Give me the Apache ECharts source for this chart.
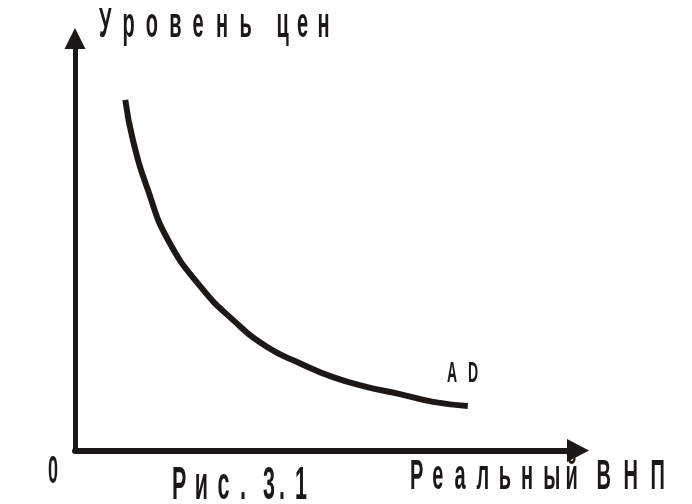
<!DOCTYPE html>
<html>
<head>
<meta charset="utf-8">
<script src="https://cdn.jsdelivr.net/npm/echarts@6/dist/echarts.min.js"></script>
<style>html,body{margin:0;padding:0;background:#fff;}#c{width:692px;height:504px;}</style>
</head>
<body>
<div id="c"></div>
<script>
// Curve AD (aggregate demand): real GNP (x) vs price level (y), arbitrary 0-100 units
const realGNP    = [10.0, 11.5, 14.5, 18.5, 25.0, 31.4, 38.2, 44.7, 51.3, 58.1, 64.6, 71.2, 78.1];
const priceLevel = [85.1, 75.4, 63.2, 51.1, 39.7, 31.7, 25.1, 21.2, 17.8, 15.4, 13.7, 11.8, 10.8];
const yTitle = 'Уровень цен';
const xTitle = 'Реальный ВНП';
const curveName = 'AD';
const originLabel = '0';
const caption = 'Рис. 3.1';

const INK = '#1c1815';
const FONT = '"Liberation Sans", Arial, sans-serif';
const SX = 0.5;
const SY = 1.06;

// Letter-spaced text: each word gets its own letter pitch (px), words separated by an extra gap (px)
function spacedLabel(text, pitches, gap, x, y, size) {
  const rich = { s: { width: Math.max(gap, 0.1) / SX, fontSize: size } };
  const words = text.split(' ');
  let out = '';
  words.forEach((w, i) => {
    const key = 'c' + i;
    rich[key] = { width: pitches[i] / SX, fontSize: size, fontWeight: 'bold', fontFamily: FONT, fill: INK };
    if (i > 0) out += '{s|\u00a0}';
    out += w.split('').map(ch => '{' + key + '|' + ch + '}').join('');
  });
  return {
    type: 'text', x: x, y: y, scaleX: SX, scaleY: SY,
    style: { text: out, rich: rich, fill: INK, fontSize: size, fontWeight: 'bold', fontFamily: FONT, align: 'left', verticalAlign: 'middle' }
  };
}
function plainLabel(text, x, y, size) {
  return {
    type: 'text', x: x, y: y, scaleX: SX, scaleY: SY,
    style: { text: text, fill: INK, fontSize: size, fontWeight: 'bold', fontFamily: FONT, align: 'left', verticalAlign: 'middle' }
  };
}

const chart = echarts.init(document.getElementById('c'));
chart.setOption({
  animation: false,
  backgroundColor: '#fff',
  grid: { left: 75, right: 114, top: 38.5, bottom: 53.5 },
  xAxis: {
    type: 'value', min: 0, max: 100,
    axisLine: { show: true, symbol: ['none', 'triangle'], symbolSize: [23, 22], lineStyle: { color: INK, width: 6 } },
    axisTick: { show: false }, axisLabel: { show: false }, splitLine: { show: false }
  },
  yAxis: {
    type: 'value', min: 0, max: 100,
    axisLine: { show: true, symbol: ['none', 'triangle'], symbolSize: [21, 21], lineStyle: { color: INK, width: 5 } },
    axisTick: { show: false }, axisLabel: { show: false }, splitLine: { show: false }
  },
  series: [{
    name: curveName,
    type: 'line', smooth: 0.5, showSymbol: false, symbol: 'none',
    data: realGNP.map((x, i) => [x, priceLevel[i]]),
    lineStyle: { color: INK, width: 6, cap: 'butt' }
  }],
  graphic: [
    spacedLabel(yTitle, [23.4, 20.5], 13.6, 99, 25, 40),
    spacedLabel(xTitle, [22.2, 27], 9, 410, 477, 40),
    spacedLabel(curveName, [21], 0, 447, 373.5, 28),
    plainLabel(originLabel, 48, 472, 36),
    spacedLabel(caption, [22.7, 16], 0, 172, 486, 43)
  ]
});
</script>
</body>
</html>
